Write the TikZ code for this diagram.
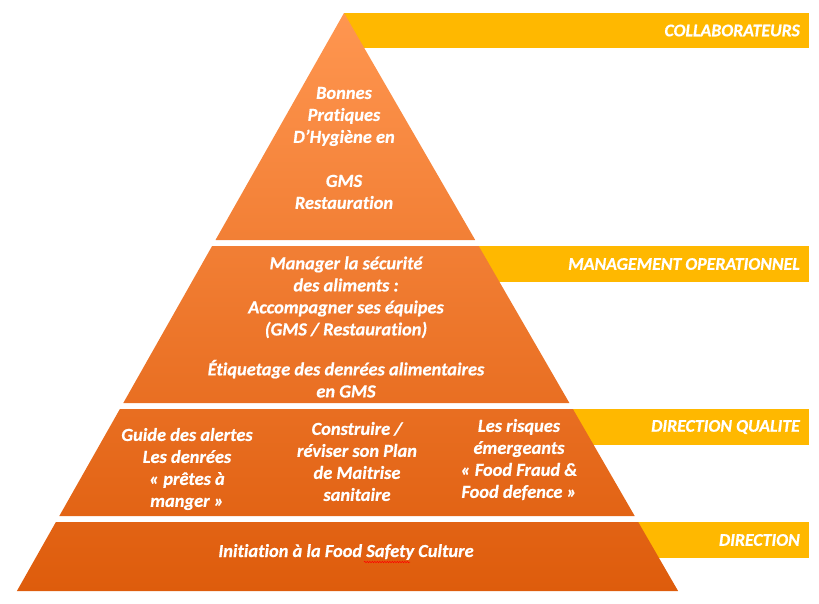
\documentclass[tikz,border=0pt]{standalone}
\usepackage{fontspec}
\setmainfont{Carlito}[Ligatures=NoCommon, BoldItalicFeatures={FakeBold=0.6}]
\usetikzlibrary{decorations.pathmorphing}
\definecolor{bandc}{RGB}{255,184,0}
\definecolor{pyrtop}{RGB}{255,150,80}
\definecolor{pyrbot}{RGB}{222,92,12}
\tikzset{
  txt/.style={text=white, font=\fontsize{18.4}{22}\selectfont\bfseries\itshape, align=center, inner sep=0pt},
  lbl/.style={text=white, font=\fontsize{17.8}{22}\selectfont\bfseries\itshape, anchor=east, inner sep=0pt},
  band/.style={fill=bandc}
}
\begin{document}
\begin{tikzpicture}[x=1pt,y=-1pt]
\useasboundingbox (0,0) rectangle (819,603);
% bands
\fill[band] (344,13) rectangle (809,48);
\fill[band] (420,246) rectangle (809,282);
\fill[band] (520,409) rectangle (809,445);
\fill[band] (590,522) rectangle (809,558);
% pyramid
\shade[top color=pyrtop, bottom color=pyrbot]
  (344,13) -- (475.2,240) -- (215.5,240) -- cycle
  (212.1,246) -- (478.7,246) -- (569.4,403) -- (123.3,403) -- cycle
  (119.9,409) -- (572.9,409) -- (634.7,516) -- (59.3,516) -- cycle
  (55.9,522) -- (638.2,522) -- (678.1,591) -- (16.9,591) -- cycle;
% labels
\node[lbl] (l1) at (800,30.5) {COLLABORATEURS};
\node[lbl] (l2) at (800,264) {MANAGEMENT OPERATIONNEL};
\node[lbl] (l3) at (800,427) {DIRECTION QUALITE};
\node[lbl] (l4) at (800,540) {DIRECTION};
% texts
\node[txt] (t1) at (344,148) {Bonnes\\Pratiques\\D’Hygiène en\\[22pt]GMS\\Restauration};
\node[txt] (t2) at (346,327) {Manager la sécurité\\des aliments :\\Accompagner ses équipes\\(GMS / Restauration)\\[18pt]Étiquetage des denrées alimentaires\\en GMS};
\node[txt] (t3a) at (187,469) {Guide des alertes\\Les denrées\\« prêtes à\\manger »};
\node[txt] (t3b) at (357,461.5) {Construire /\\réviser son Plan\\de Maitrise\\sanitaire};
\node[txt] (t3c) at (519,459.5) {Les risques\\émergeants\\« Food Fraud \&\\Food defence »};
\node[txt] (t4) at (346,552) {Initiation à la Food Safety Culture};
\draw[red, line width=0.5pt, decorate, decoration={snake, amplitude=0.7pt, segment length=2.5pt}] (364,562) -- (410,562);
\end{tikzpicture}
\end{document}
